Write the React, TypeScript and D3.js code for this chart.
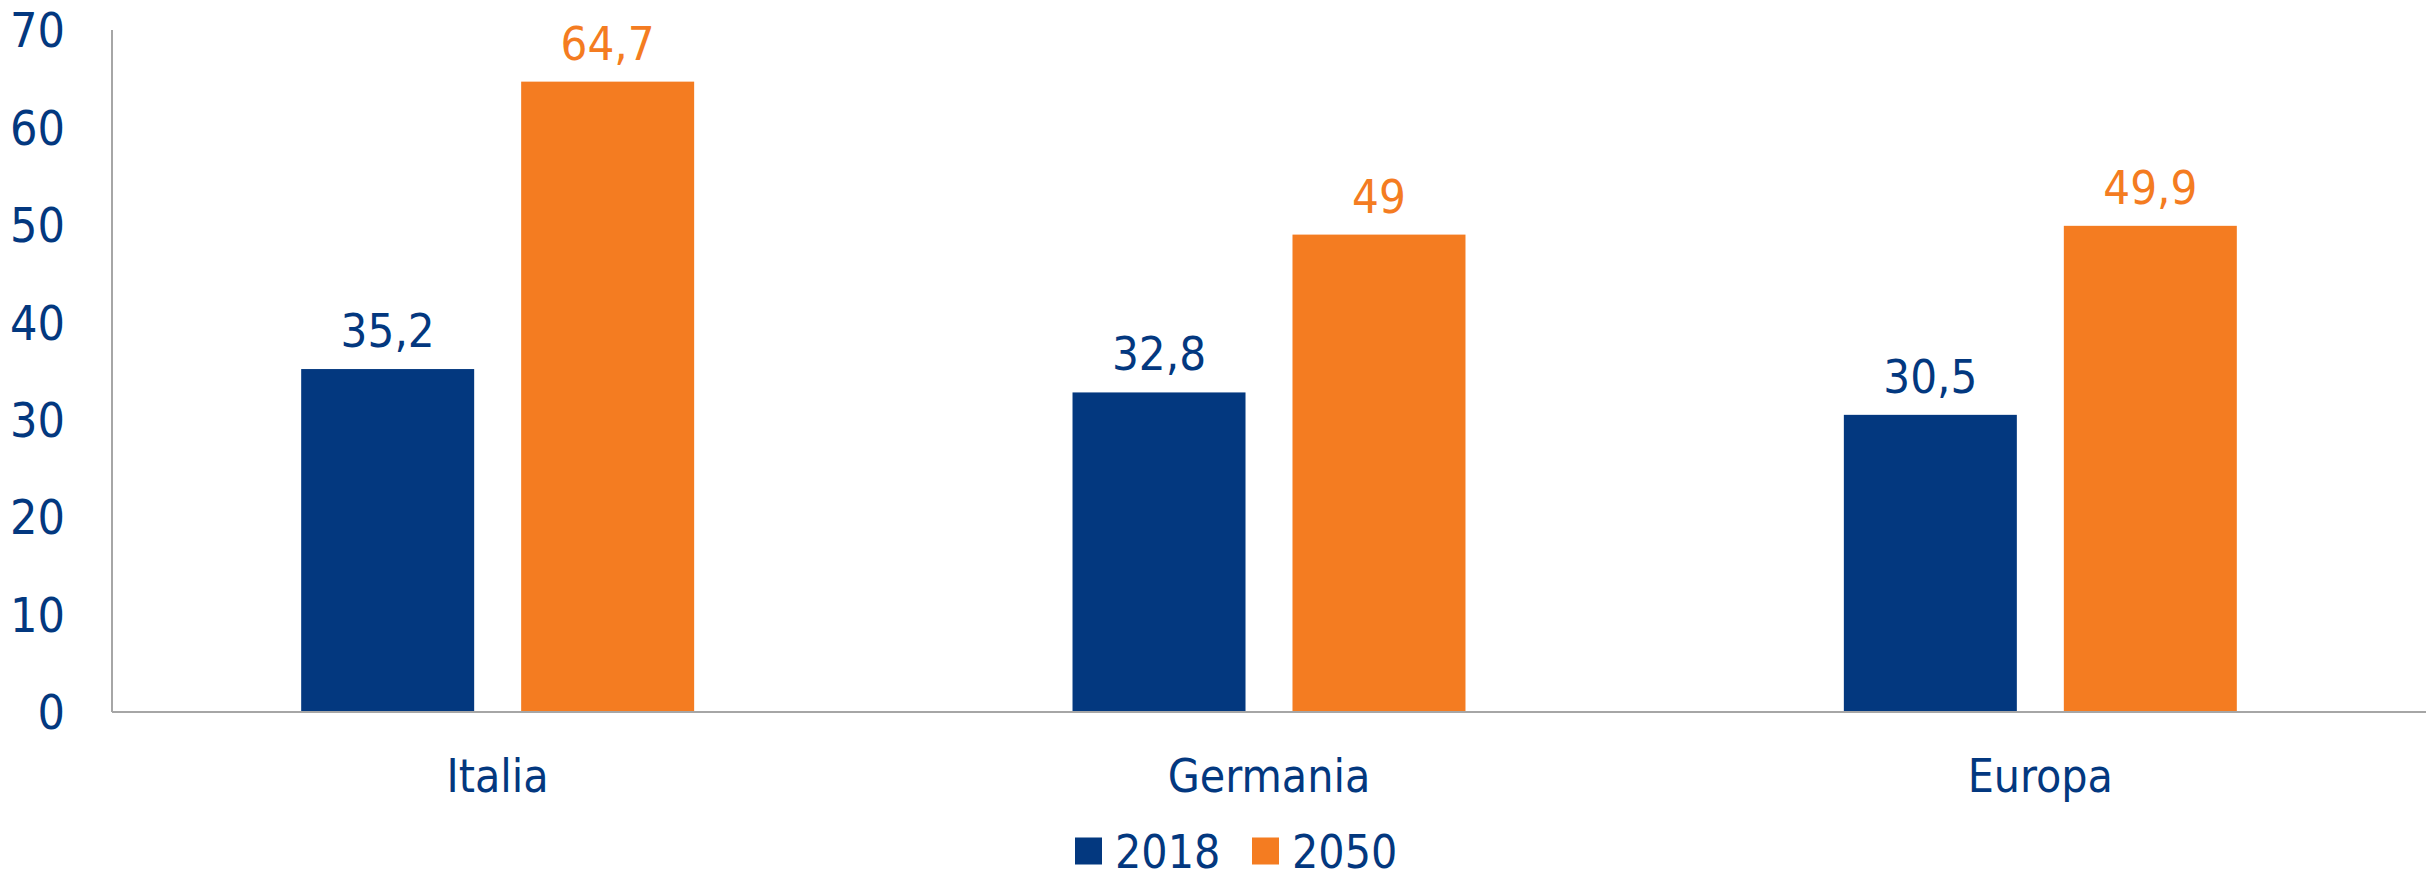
import React from 'react';
import { scaleBand, scaleLinear } from 'd3';

const categories = ['Italia', 'Germania', 'Europa'];
const seriesNames = ['2018', '2050'];
const values2018 = [35.2, 32.8, 30.5];
const values2050 = [64.7, 49, 49.9];
const yTicks = [0, 10, 20, 30, 40, 50, 60, 70];

const width = 2432;
const height = 878;
const margin = { left: 112, right: 6, top: 30, bottom: 166 };

const colors = { '2018': '#03387f', '2050': '#f47c21' };
const axisColor = '#a6a6a6';
const textColor = '#03387f';
const font = '"DejaVu Sans Condensed", "DejaVu Sans", sans-serif';
const fontSize = 46;

const fmt = (v: number) => String(v).replace('.', ',');

export default function App() {
  const plotBottom = height - margin.bottom;
  const plotRight = width - margin.right;

  const x0 = scaleBand<string>()
    .domain(categories)
    .range([margin.left, plotRight]);

  const x1 = scaleBand<string>()
    .domain(seriesNames)
    .range([0, x0.bandwidth()])
    .paddingInner(0.2136)
    .paddingOuter(0.86);

  const y = scaleLinear()
    .domain([0, 70])
    .range([plotBottom, margin.top]);

  const seriesValues: Record<string, number[]> = { '2018': values2018, '2050': values2050 };

  // legend layout
  const legendY = 851;
  const legendItems = [
    { name: '2018', x: 1075 },
    { name: '2050', x: 1252 },
  ];

  return (
    <svg
      width={width}
      height={height}
      style={{ position: 'absolute', left: 0, top: 0, background: '#fff' }}
      fontFamily={font}
    >
      {/* y tick labels */}
      {yTicks.map(t => (
        <text
          key={t}
          x={65}
          y={y(t)}
          dy="0.36em"
          textAnchor="end"
          fontSize={fontSize + 2}
          fill={textColor}
        >
          {t}
        </text>
      ))}

      {/* bars */}
      {seriesNames.map(s =>
        categories.map((c, i) => {
          const v = seriesValues[s][i];
          const bx = (x0(c) as number) + (x1(s) as number);
          return (
            <rect
              key={s + c}
              x={bx}
              y={y(v)}
              width={x1.bandwidth()}
              height={plotBottom - y(v)}
              fill={colors[s]}
            />
          );
        })
      )}

      {/* value labels */}
      {seriesNames.map(s =>
        categories.map((c, i) => {
          const v = seriesValues[s][i];
          const cx = (x0(c) as number) + (x1(s) as number) + x1.bandwidth() / 2;
          return (
            <text
              key={'l' + s + c}
              x={cx}
              y={y(v) - 22}
              textAnchor="middle"
              fontSize={fontSize + 1}
              fill={s === '2050' ? colors['2050'] : textColor}
            >
              {fmt(v)}
            </text>
          );
        })
      )}

      {/* axes */}
      <line x1={margin.left} x2={margin.left} y1={margin.top} y2={plotBottom} stroke={axisColor} strokeWidth={2} />
      <line x1={margin.left} x2={plotRight} y1={plotBottom} y2={plotBottom} stroke={axisColor} strokeWidth={2} />

      {/* category labels */}
      {categories.map(c => (
        <text
          key={'c' + c}
          x={(x0(c) as number) + x0.bandwidth() / 2}
          y={792}
          textAnchor="middle"
          fontSize={fontSize}
          fill={textColor}
        >
          {c}
        </text>
      ))}

      {/* legend */}
      {legendItems.map(item => (
        <g key={item.name}>
          <rect x={item.x} y={legendY - 13.5} width={27} height={27} fill={colors[item.name]} />
          <text x={item.x + 40} y={legendY} dy="0.36em" fontSize={fontSize} fill={textColor}>
            {item.name}
          </text>
        </g>
      ))}
    </svg>
  );
}
